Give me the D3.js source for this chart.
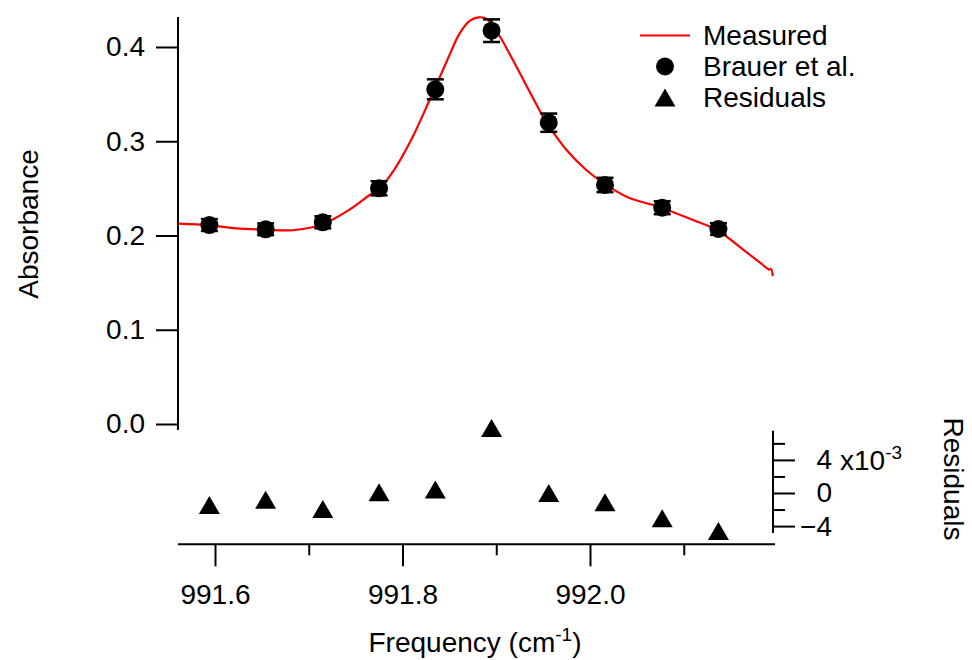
<!DOCTYPE html>
<html>
<head>
<meta charset="utf-8">
<script src="https://cdn.jsdelivr.net/npm/d3@7"></script>
<style>
  body { margin: 0; background: #fff; }
  text { font-family: Arial, "Liberation Sans", sans-serif; fill: #000; }
</style>
</head>
<body>
<div id="chart"></div>
<script>
    // measured spectrum
    var measuredFreq = [991.561, 991.594, 991.623, 991.654, 991.683, 991.714, 991.744, 991.765, 991.775,
      991.790, 991.810, 991.829, 991.847, 991.861, 991.872, 991.881, 991.890, 991.904,
      991.916, 991.929, 991.950, 991.955, 991.975, 991.996, 992.015, 992.039, 992.076, 992.110,
      992.136, 992.164, 992.189, 992.191, 992.193, 992.195];
    var measuredAbs = [0.2125, 0.2108, 0.2076, 0.2062, 0.2056, 0.2117, 0.2278, 0.2430, 0.2493,
      0.2680, 0.3030, 0.3440, 0.3844, 0.4145, 0.4279, 0.4315, 0.4297, 0.4109,
      0.3894, 0.3650, 0.3260, 0.3180, 0.2907, 0.2695, 0.2552, 0.2412, 0.2295, 0.2164,
      0.2053, 0.1846, 0.1652, 0.1638, 0.1646, 0.1570];

    // Brauer et al. points
    var brauerFreq = [991.594, 991.654, 991.715, 991.775, 991.835, 991.895, 991.956, 992.016, 992.077, 992.137];
    var brauerAbs = [0.2111, 0.2066, 0.2140, 0.2501, 0.3551, 0.4173, 0.3197, 0.2536, 0.2295, 0.2069];
    var brauerErr = [0.0063, 0.0062, 0.0064, 0.0075, 0.0106, 0.0120, 0.0097, 0.0076, 0.0069, 0.0062];

    // residuals (x10^-3)
    var residuals = [-1.44, -0.83, -1.92, 0.10, 0.41, 7.86, 0.01, -1.11, -3.04, -4.60];

    var absTicks = [0, 0.1, 0.2, 0.3, 0.4];
    var freqMajor = [991.6, 991.8, 992.0];
    var freqMinor = [991.7, 991.9, 992.1];
    var resMajor = [-4, 0, 4];
    var resMinor = [-2, 2, 6];
    var legendLabels = ["Measured", "Brauer et al.", "Residuals"];

    var width = 972, height = 660, fs = 28;

    var svg = d3.select("#chart").append("svg")
      .attr("width", width)
      .attr("height", height)
      .style("display", "block");

    svg.append("rect").attr("width", width).attr("height", height).attr("fill", "#fff");

    var x = d3.scaleLinear().domain([991.6, 992.0]).range([215, 590]);
    var y = d3.scaleLinear().domain([0, 0.4]).range([424, 47]);
    var yRes = d3.scaleLinear().domain([0, 4]).range([493, 459.9]);

    var xLeft = 178, xRight = 773, yBottom = 544.3;

    // left axis
    var gLeft = svg.append("g")
      .attr("transform", "translate(" + xLeft + ",0)")
      .call(d3.axisLeft(y).tickValues(absTicks).tickFormat(d3.format(".1f")).tickSize(22).tickPadding(11));
    gLeft.select(".domain").remove();
    gLeft.append("line").attr("y1", 17).attr("y2", 430);

    // bottom axis
    var gBot = svg.append("g")
      .attr("transform", "translate(0," + yBottom + ")")
      .call(d3.axisBottom(x).tickValues(freqMajor).tickFormat(d3.format(".1f")).tickSize(22).tickPadding(18));
    gBot.select(".domain").remove();
    var gBotMinor = svg.append("g")
      .attr("transform", "translate(0," + yBottom + ")")
      .call(d3.axisBottom(x).tickValues(freqMinor).tickFormat("").tickSize(11));
    gBotMinor.select(".domain").remove();
    gBot.append("line").attr("x1", xLeft).attr("x2", xRight + 2);

    // right residual axis
    var gRight = svg.append("g")
      .attr("transform", "translate(" + xRight + ",0)")
      .call(d3.axisRight(yRes).tickValues(resMajor).tickFormat(d3.format("d")).tickSize(22).tickPadding(0));
    gRight.select(".domain").remove();
    gRight.selectAll(".tick text").attr("x", 59).attr("text-anchor", "end");
    var gRightMinor = svg.append("g")
      .attr("transform", "translate(" + xRight + ",0)")
      .call(d3.axisRight(yRes).tickValues(resMinor).tickFormat("").tickSize(12));
    gRightMinor.select(".domain").remove();
    gRight.append("line").attr("y1", 430.7).attr("y2", 533);

    svg.selectAll(".tick line, g > line").attr("stroke", "#000").attr("stroke-width", 2);
    svg.selectAll(".tick text").style("font-size", fs + "px").attr("fill", "#000");

    // x10^-3 multiplier
    var mult = svg.append("text")
      .attr("x", xRight + 67)
      .attr("y", yRes(4))
      .attr("dy", "0.35em")
      .style("font-size", fs + "px");
    mult.append("tspan").text("x10");
    mult.append("tspan").attr("dy", "-0.55em").style("font-size", "19px").text("-3");

    // axis titles
    svg.append("text")
      .attr("transform", "translate(38,224) rotate(-90)")
      .attr("text-anchor", "middle")
      .style("font-size", fs + "px")
      .text("Absorbance");

    svg.append("text")
      .attr("transform", "translate(944,479) rotate(90)")
      .attr("text-anchor", "middle")
      .style("font-size", fs + "px")
      .text("Residuals");

    var xt = svg.append("text")
      .attr("x", 475)
      .attr("y", 652)
      .attr("text-anchor", "middle")
      .style("font-size", fs + "px");
    xt.append("tspan").text("Frequency (cm");
    xt.append("tspan").attr("dy", "-0.6em").style("font-size", "19px").text("-1");
    xt.append("tspan").attr("dy", "0.4em").text(")");

    // measured line
    var measured = measuredFreq.map(function(d, i) { return [d, measuredAbs[i]]; });
    var line = d3.line()
      .curve(d3.curveCatmullRom)
      .x(function(d) { return x(d[0]); })
      .y(function(d) { return y(d[1]); });

    svg.append("path")
      .datum(measured)
      .attr("d", line)
      .attr("fill", "none")
      .attr("stroke", "#ff0000")
      .attr("stroke-width", 2.2);

    // error bars + points
    var pts = brauerFreq.map(function(d, i) {
      return { f: d, a: brauerAbs[i], e: brauerErr[i], r: residuals[i] };
    });

    var eb = svg.selectAll(".err")
      .data(pts)
      .enter().append("g")
      .attr("class", "err")
      .attr("stroke", "#000")
      .attr("stroke-width", 2.5);
    eb.append("line")
      .attr("x1", function(d) { return x(d.f); })
      .attr("x2", function(d) { return x(d.f); })
      .attr("y1", function(d) { return y(d.a + d.e); })
      .attr("y2", function(d) { return y(d.a - d.e); });
    eb.append("line")
      .attr("x1", function(d) { return x(d.f) - 8.5; })
      .attr("x2", function(d) { return x(d.f) + 8.5; })
      .attr("y1", function(d) { return y(d.a + d.e); })
      .attr("y2", function(d) { return y(d.a + d.e); });
    eb.append("line")
      .attr("x1", function(d) { return x(d.f) - 8.5; })
      .attr("x2", function(d) { return x(d.f) + 8.5; })
      .attr("y1", function(d) { return y(d.a - d.e); })
      .attr("y2", function(d) { return y(d.a - d.e); });

    svg.selectAll(".pt")
      .data(pts)
      .enter().append("circle")
      .attr("class", "pt")
      .attr("cx", function(d) { return x(d.f); })
      .attr("cy", function(d) { return y(d.a); })
      .attr("r", 9)
      .attr("fill", "#000");

    // residual triangles (centred on their box)
    var tri = function(cx, cy) {
      return "M" + (cx - 10.5) + "," + (cy + 9) + "L" + (cx + 10.5) + "," + (cy + 9) + "L" + cx + "," + (cy - 9) + "Z";
    };
    svg.selectAll(".res")
      .data(pts)
      .enter().append("path")
      .attr("class", "res")
      .attr("d", function(d) { return tri(x(d.f), yRes(d.r)); })
      .attr("fill", "#000");

    // legend
    var legend = svg.selectAll(".legend")
      .data(legendLabels)
      .enter().append("g")
      .attr("class", "legend")
      .attr("transform", function(d, i) { return "translate(0," + (35.5 + i * 31) + ")"; });

    legend.append("text")
      .attr("x", 703)
      .attr("dy", "0.35em")
      .style("font-size", fs + "px")
      .text(function(d) { return d; });

    legend.filter(function(d, i) { return i === 0; }).append("line")
      .attr("x1", 640).attr("x2", 690)
      .attr("stroke", "#ff0000").attr("stroke-width", 2.2);
    legend.filter(function(d, i) { return i === 1; }).append("circle")
      .attr("cx", 665).attr("r", 9).attr("fill", "#000");
    legend.filter(function(d, i) { return i === 2; }).append("path")
      .attr("d", tri(665, 0)).attr("fill", "#000");
</script>
</body>
</html>
